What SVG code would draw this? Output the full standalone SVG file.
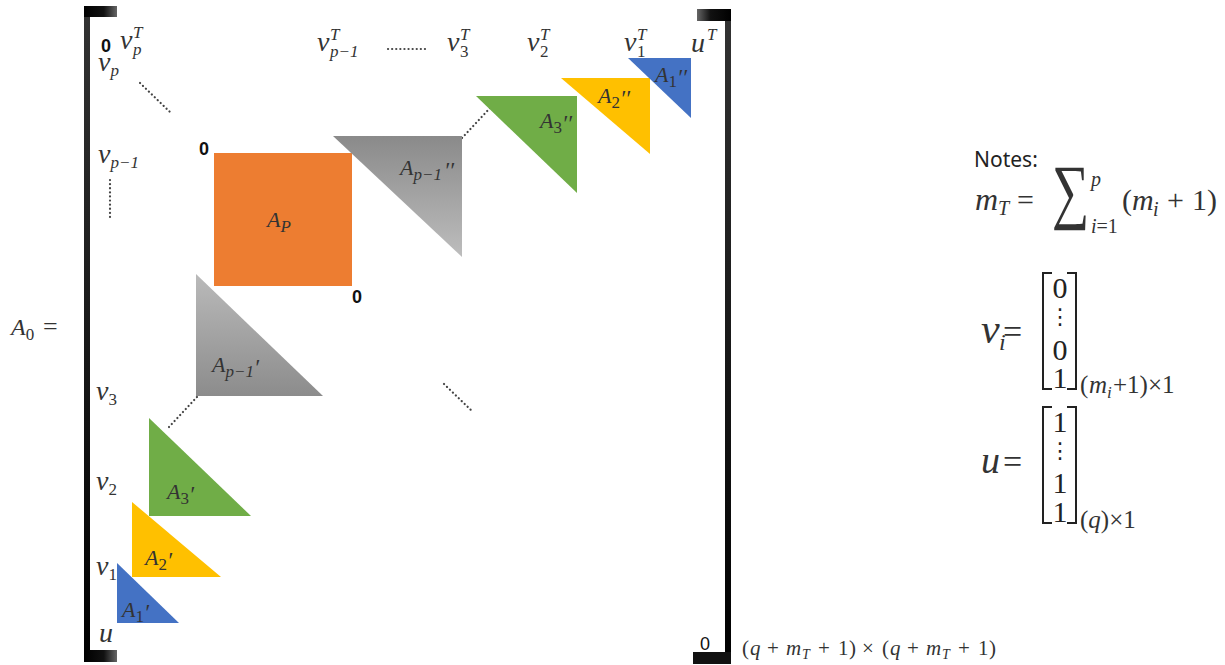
<svg xmlns="http://www.w3.org/2000/svg" width="1225" height="665" viewBox="0 0 1225 665">
<style>
.m{font-family:"Liberation Serif","Times New Roman",serif;font-style:italic;fill:#333}
.u{font-family:"Liberation Serif","Times New Roman",serif;font-style:normal;fill:#333}
.v{font-size:28px}
.a{font-size:22px}
.s{font-size:17px}
.pr{font-family:"Liberation Serif","Times New Roman",serif;font-style:italic;font-size:23px;fill:#333}
.z{font-family:"Liberation Sans",Arial,sans-serif;font-weight:bold;font-size:18px;fill:#111}
.dot{fill:none;stroke:#444;stroke-width:2.2;stroke-linecap:round;stroke-dasharray:0.1 4}
.br{fill:none;stroke:#222;stroke-width:2}
.n{font-family:"Liberation Serif","Times New Roman",serif;font-size:30px;fill:#222}
.vd{font-family:"DejaVu Sans",sans-serif;font-size:22px;fill:#222}
</style>
<defs>
<linearGradient id="gTopL" x1="0" y1="0" x2="1" y2="0"><stop offset="0" stop-color="#000"/><stop offset="0.6" stop-color="#111"/><stop offset="1" stop-color="#666"/></linearGradient>
<linearGradient id="gTopR" x1="1" y1="0" x2="0" y2="0"><stop offset="0" stop-color="#000"/><stop offset="0.6" stop-color="#111"/><stop offset="1" stop-color="#666"/></linearGradient>
<linearGradient id="gVert" x1="0" y1="0" x2="0" y2="1"><stop offset="0" stop-color="#333"/><stop offset="1" stop-color="#000"/></linearGradient>
<linearGradient id="gGrayUp" x1="0" y1="0" x2="0" y2="1"><stop offset="0" stop-color="#8a8a8a"/><stop offset="1" stop-color="#bdbdbd"/></linearGradient>
<linearGradient id="gGrayLo" x1="0" y1="0" x2="0" y2="1"><stop offset="0" stop-color="#bababa"/><stop offset="1" stop-color="#8c8c8c"/></linearGradient>
</defs>
<rect width="1225" height="665" fill="#fff"/>

<g id="bracket-left">
<rect x="84" y="6" width="6" height="656" fill="url(#gVert)"/>
<rect x="84" y="6" width="33" height="11" fill="url(#gTopL)"/>
<rect x="84" y="650" width="33" height="12" fill="url(#gTopL)"/>
</g>
<g id="bracket-right">
<rect x="725" y="9" width="6" height="655" fill="url(#gVert)"/>
<rect x="697" y="9" width="34" height="12" fill="url(#gTopR)"/>
<rect x="693" y="652" width="38" height="12" fill="#111"/>
</g>

<g id="connectors">
<path class="dot" d="M140,83 L170,112"/>
<path class="dot" d="M110,180 L110,220"/>
<path class="dot" d="M388,49 L429,49"/>
<path class="dot" d="M462,138 L490,108"/>
<path class="dot" d="M197,397 L169,427"/>
<path class="dot" d="M444,384 L473,412"/>
</g>

<g id="node-AP">
<rect x="214" y="153" width="138" height="133" fill="#ED7D31"/>
<text class="m a" x="267" y="227">A<tspan class="s" dy="5">P</tspan></text>
<text class="z" x="199" y="155">0</text>
<text class="z" x="352" y="303">0</text>
</g>

<g id="node-Ap1-upper">
<polygon points="333,136 462,136 462,257" fill="url(#gGrayUp)"/>
<text class="m a" x="400" y="175">A<tspan class="s" dy="5">p−1</tspan></text>
<text class="pr" x="444" y="178">′′</text>
</g>
<g id="node-A3-upper">
<polygon points="476,96 577,96 577,193" fill="#70AD47"/>
<text class="m a" x="540" y="128">A<tspan class="s u" dy="5">3</tspan></text>
<text class="pr" x="562" y="131">′′</text>
</g>
<g id="node-A2-upper">
<polygon points="561,78 650,78 650,154" fill="#FFC000"/>
<text class="m a" x="598" y="103">A<tspan class="s u" dy="5">2</tspan></text>
<text class="pr" x="620" y="106">′′</text>
</g>
<g id="node-A1-upper">
<polygon points="628,58 691,58 691,118" fill="#4472C4"/>
<text class="m a" x="655" y="82">A<tspan class="s u" dy="5">1</tspan></text>
<text class="pr" x="677" y="85">′′</text>
</g>

<g id="node-Ap1-lower">
<polygon points="196,274 196,396 323,396" fill="url(#gGrayLo)"/>
<text class="m a" x="212" y="372">A<tspan class="s" dy="5">p−1</tspan></text>
<text class="pr" x="254" y="375">′</text>
</g>
<g id="node-A3-lower">
<polygon points="149,418 149,516 251,516" fill="#70AD47"/>
<text class="m a" x="167" y="499">A<tspan class="s u" dy="5">3</tspan></text>
<text class="pr" x="189" y="502">′</text>
</g>
<g id="node-A2-lower">
<polygon points="132,502 132,577 221,577" fill="#FFC000"/>
<text class="m a" x="145" y="565">A<tspan class="s u" dy="5">2</tspan></text>
<text class="pr" x="167" y="568">′</text>
</g>
<g id="node-A1-lower">
<polygon points="117,563 117,623 179,623" fill="#4472C4"/>
<text class="m a" x="122" y="617">A<tspan class="s u" dy="5">1</tspan></text>
<text class="pr" x="144" y="620">′</text>
</g>

<g id="labels-top">
<text class="z" x="101" y="52">0</text>
<text class="m v" x="120" y="49">v<tspan class="s" x="133" y="55">p</tspan><tspan class="s" x="133" y="38">T</tspan></text>
<text class="m v" x="317" y="51">v<tspan class="s" x="330" y="57">p−1</tspan><tspan class="s" x="330" y="40">T</tspan></text>
<text class="m v" x="447" y="51">v<tspan class="s u" x="460" y="57">3</tspan><tspan class="s" x="460" y="40">T</tspan></text>
<text class="m v" x="527" y="51">v<tspan class="s u" x="540" y="57">2</tspan><tspan class="s" x="540" y="40">T</tspan></text>
<text class="m v" x="624" y="51">v<tspan class="s u" x="637" y="57">1</tspan><tspan class="s" x="637" y="40">T</tspan></text>
<text class="m v" x="691" y="52">u<tspan class="s" x="707" y="40">T</tspan></text>
</g>
<g id="labels-left">
<text class="m v" x="98" y="71">v<tspan class="s" dy="5">p</tspan></text>
<text class="m v" x="98" y="163">v<tspan class="s" dy="5">p−1</tspan></text>
<text class="m v" x="96" y="400">v<tspan class="s u" dy="5">3</tspan></text>
<text class="m v" x="96" y="490">v<tspan class="s u" dy="5">2</tspan></text>
<text class="m v" x="96" y="575">v<tspan class="s u" dy="5">1</tspan></text>
<text class="m v" x="99" y="642">u</text>
<text class="m" x="11" y="335" style="font-size:24px">A<tspan class="s u" dy="5">0</tspan></text>
<text class="u" x="43" y="335" style="font-size:26px">=</text>
</g>
<g id="labels-bottom">
<text x="700" y="650" style="font-family:'Liberation Sans',Arial,sans-serif;font-size:18px;fill:#111">0</text>
<text class="u" y="655" style="font-size:21px"><tspan x="742">(</tspan><tspan class="m" x="750">q</tspan><tspan x="767">+</tspan><tspan class="m" x="786">m</tspan><tspan class="m" x="802" y="659" style="font-size:14px">T</tspan><tspan x="818" y="655">+</tspan><tspan x="838">1</tspan><tspan x="849">)</tspan><tspan x="862">×</tspan><tspan x="882">(</tspan><tspan class="m" x="890">q</tspan><tspan x="907">+</tspan><tspan class="m" x="926">m</tspan><tspan class="m" x="942" y="659" style="font-size:14px">T</tspan><tspan x="958" y="655">+</tspan><tspan x="978">1</tspan><tspan x="989">)</tspan></text>
</g>

<g id="notes">
<text x="974" y="167" style="font-family:'Noto Sans','Open Sans',sans-serif;font-size:21px;fill:#222">Notes:</text>
<text class="m" x="975" y="210" style="font-size:32px">m<tspan style="font-size:20px" dy="5">T</tspan></text>
<text class="u" x="1017" y="210" style="font-size:30px">=</text>
<text class="u" transform="translate(1052,215) scale(1.05,1.45)" style="font-size:50px">∑</text>
<text class="m" x="1091" y="186" style="font-size:20px">p</text>
<text class="m" x="1091" y="233" style="font-size:20px">i<tspan class="u">=1</tspan></text>
<text class="u" y="210" style="font-size:30px"><tspan x="1122">(</tspan><tspan class="m" x="1132">m</tspan><tspan class="m" x="1153" y="216" style="font-size:20px">i</tspan><tspan x="1167" y="210">+</tspan><tspan x="1192">1</tspan><tspan x="1207">)</tspan></text>

<text class="m" x="981" y="343" style="font-size:42px">v</text>
<text class="m" x="999" y="350" style="font-size:24px">i</text>
<text class="u" x="1003" y="343" style="font-size:34px">=</text>
<path class="br" d="M1052,273 H1043 V389 H1052 M1067,273 H1076 V389 H1067"/>
<text class="n" x="1060" y="298" text-anchor="middle">0</text>
<text class="vd" x="1060" y="324" text-anchor="middle">⋮</text>
<text class="n" x="1060" y="360" text-anchor="middle">0</text>
<text class="n" x="1060" y="388" text-anchor="middle">1</text>
<text class="u" y="393" style="font-size:25px"><tspan x="1080">(</tspan><tspan class="m" x="1089">m</tspan><tspan class="m" x="1107" y="398" style="font-size:17px">i</tspan><tspan x="1113" y="393">+1)×1</tspan></text>

<text class="m" x="981" y="473" style="font-size:38px">u</text>
<text class="u" x="1003" y="473" style="font-size:34px">=</text>
<path class="br" d="M1052,407 H1043 V523 H1052 M1067,407 H1076 V523 H1067"/>
<text class="n" x="1060" y="432" text-anchor="middle">1</text>
<text class="vd" x="1060" y="458" text-anchor="middle">⋮</text>
<text class="n" x="1060" y="493" text-anchor="middle">1</text>
<text class="n" x="1060" y="522" text-anchor="middle">1</text>
<text class="u" x="1080" y="528" style="font-size:25px">(<tspan class="m">q</tspan>)×1</text>
</g>
</svg>
